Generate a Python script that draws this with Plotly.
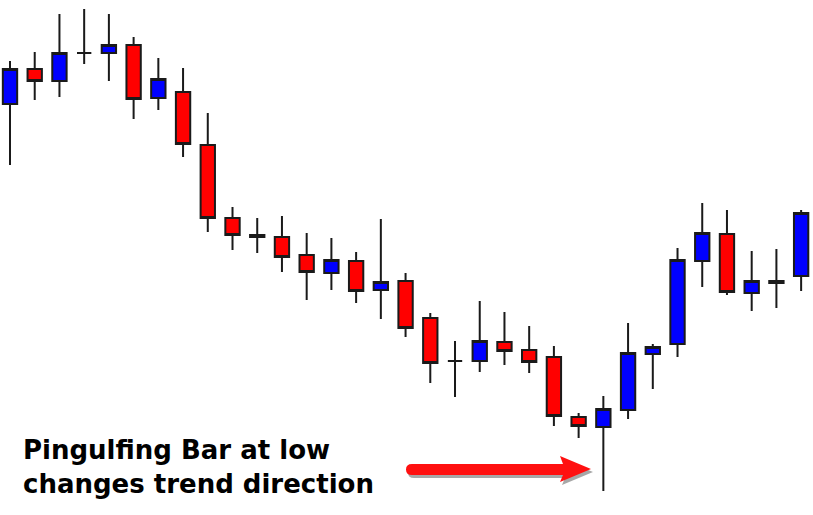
import plotly.graph_objects as go

# Candle data (arbitrary price units)
idx = list(range(33))
opens = [411, 446, 434, 462, 462, 470, 417, 423, 370, 297, 280, 278, 260, 242, 254, 225, 234, 197,
         154, 154, 173, 165, 158, 98, 88, 105, 161, 171, 254, 281, 222, 232, 239]
highs = [454, 463, 501, 506, 501, 478, 457, 447, 402, 308, 297, 299, 282, 277, 263, 296, 242, 202,
         174, 214, 203, 189, 169, 102, 119, 192, 171, 267, 312, 305, 264, 266, 305]
lows = [350, 415, 418, 451, 434, 396, 405, 358, 283, 265, 262, 243, 215, 225, 212, 196, 178, 132,
        118, 143, 150, 142, 89, 77, 24, 96, 126, 158, 228, 220, 204, 207, 224]
closes = [446, 434, 462, 462, 470, 416, 436, 371, 297, 280, 278, 258, 243, 255, 224, 233, 187, 152,
          154, 174, 164, 153, 99, 89, 106, 162, 168, 255, 282, 223, 234, 234, 302]

label_text = "<b>Pingulfing Bar at low<br>changes trend direction</b>"

W, H = 813, 515

fig = go.Figure()
fig.add_trace(go.Candlestick(
    x=idx, open=opens, high=highs, low=lows, close=closes,
    increasing=dict(fillcolor="#0000ff", line=dict(color="#1a1a1a", width=2)),
    decreasing=dict(fillcolor="#ff0000", line=dict(color="#1a1a1a", width=2)),
    whiskerwidth=0,
    hoverinfo="skip",
    showlegend=False,
))


def px(x, y):
    return f"{x / W:.5f},{1 - y / H:.5f}"


def arrow_path(dx=0, dy=0):
    pts = []
    pts.append("M" + px(412 + dx, 464 + dy))
    pts.append("L" + px(563 + dx, 464 + dy))
    pts.append("L" + px(560 + dx, 456 + dy))
    pts.append("L" + px(591 + dx, 469 + dy))
    pts.append("L" + px(560 + dx, 482 + dy))
    pts.append("L" + px(563 + dx, 475 + dy))
    pts.append("L" + px(412 + dx, 475 + dy))
    pts.append("Q" + px(406 + dx, 475 + dy) + " " + px(406 + dx, 469.5 + dy))
    pts.append("Q" + px(406 + dx, 464 + dy) + " " + px(412 + dx, 464 + dy))
    pts.append("Z")
    return " ".join(pts)


fig.add_shape(type="path", xref="paper", yref="paper", path=arrow_path(2, 3),
              fillcolor="rgba(60,60,60,0.45)", line=dict(width=0), layer="above")
fig.add_shape(type="path", xref="paper", yref="paper", path=arrow_path(),
              fillcolor="#ff1010", line=dict(width=0), layer="above")

fig.add_annotation(
    text=label_text, xref="paper", yref="paper",
    x=21 / W, y=1 - 467 / H, xanchor="left", yanchor="middle",
    align="left", showarrow=False,
    font=dict(family="DejaVu Sans", size=26, color="#000000"),
)

fig.update_layout(
    width=W, height=H,
    margin=dict(l=0, r=0, t=0, b=0),
    paper_bgcolor="white", plot_bgcolor="white",
    boxgap=0.42, boxgroupgap=0,
    xaxis=dict(range=[-0.4045, 32.48], visible=False, rangeslider=dict(visible=False), fixedrange=True),
    yaxis=dict(range=[0, 515], visible=False, fixedrange=True),
    hovermode=False,
)

fig.write_html("out.html", config={"displayModeBar": False},
               post_script="document.body.style.margin='0';")
